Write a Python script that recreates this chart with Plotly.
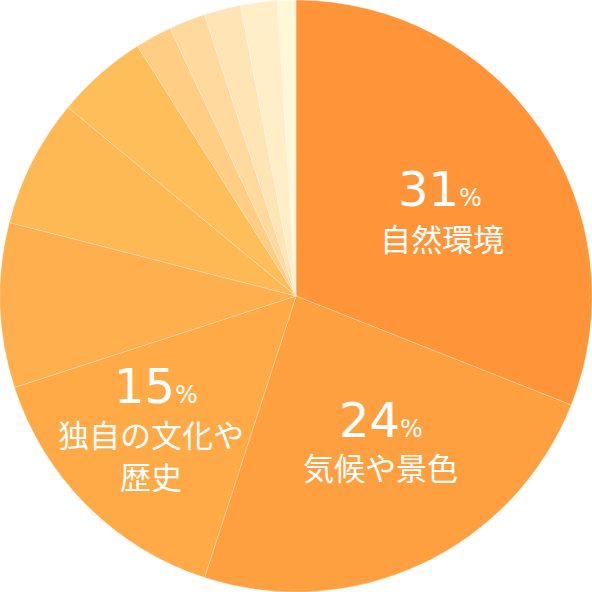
import plotly.graph_objects as go

labels = ["自然環境", "気候や景色", "独自の文化や<br>歴史", "項目4", "項目5", "項目6",
          "項目7", "項目8", "項目9", "項目10", "項目11"]
values = [31, 24, 15, 9, 7, 5, 2, 2, 2, 2, 1]
colors = ["#FF9538", "#FFA040", "#FFA947", "#FFAF4D", "#FEB854", "#FEBF5A",
          "#FFCD84", "#FFD99E", "#FFE4B5", "#FFEEC8", "#FFF8D8"]
shown = [0, 1, 2]

W = H = 592
fig = go.Figure(go.Pie(
    labels=labels, values=values, sort=False, direction="clockwise", rotation=0,
    marker=dict(colors=colors, line=dict(color="rgba(255,255,255,0.45)", width=0.6)),
    textinfo="none", hoverinfo="none", showlegend=False,
    domain=dict(x=[0, 1], y=[0, 1]),
))

# label positions (pixels) for the three labelled slices: number centre, label line centres
num_pos = [(440, 189), (381, 420), (156, 386)]
lab_pos = [(442, [237]), (380, [466]), (151, [433, 475])]

ann = []
for k, i in enumerate(shown):
    nx, ny = num_pos[k]
    lx, lys = lab_pos[k]
    ann.append(dict(
        x=nx / W, y=1 - ny / H, xref="paper", yref="paper", showarrow=False,
        xanchor="center", yanchor="middle",
        text=f"{values[i]}<span style='font-size:24px'>%</span>",
        font=dict(family="DejaVu Sans", size=48, color="white"),
    ))
    for line, ly in zip(labels[i].split("<br>"), lys):
        ann.append(dict(
            x=lx / W, y=1 - ly / H, xref="paper", yref="paper", showarrow=False,
            xanchor="center", yanchor="middle", align="center",
            text=line,
            font=dict(family="Noto Sans CJK JP", size=31, color="white"),
        ))

fig.update_layout(
    width=W, height=H, margin=dict(l=0, r=0, t=0, b=0),
    paper_bgcolor="white", plot_bgcolor="white",
    annotations=ann,
)
fig.write_html("out.html", config={"displayModeBar": False},
               post_script="document.body.style.margin='0';document.body.style.overflow='hidden';")
